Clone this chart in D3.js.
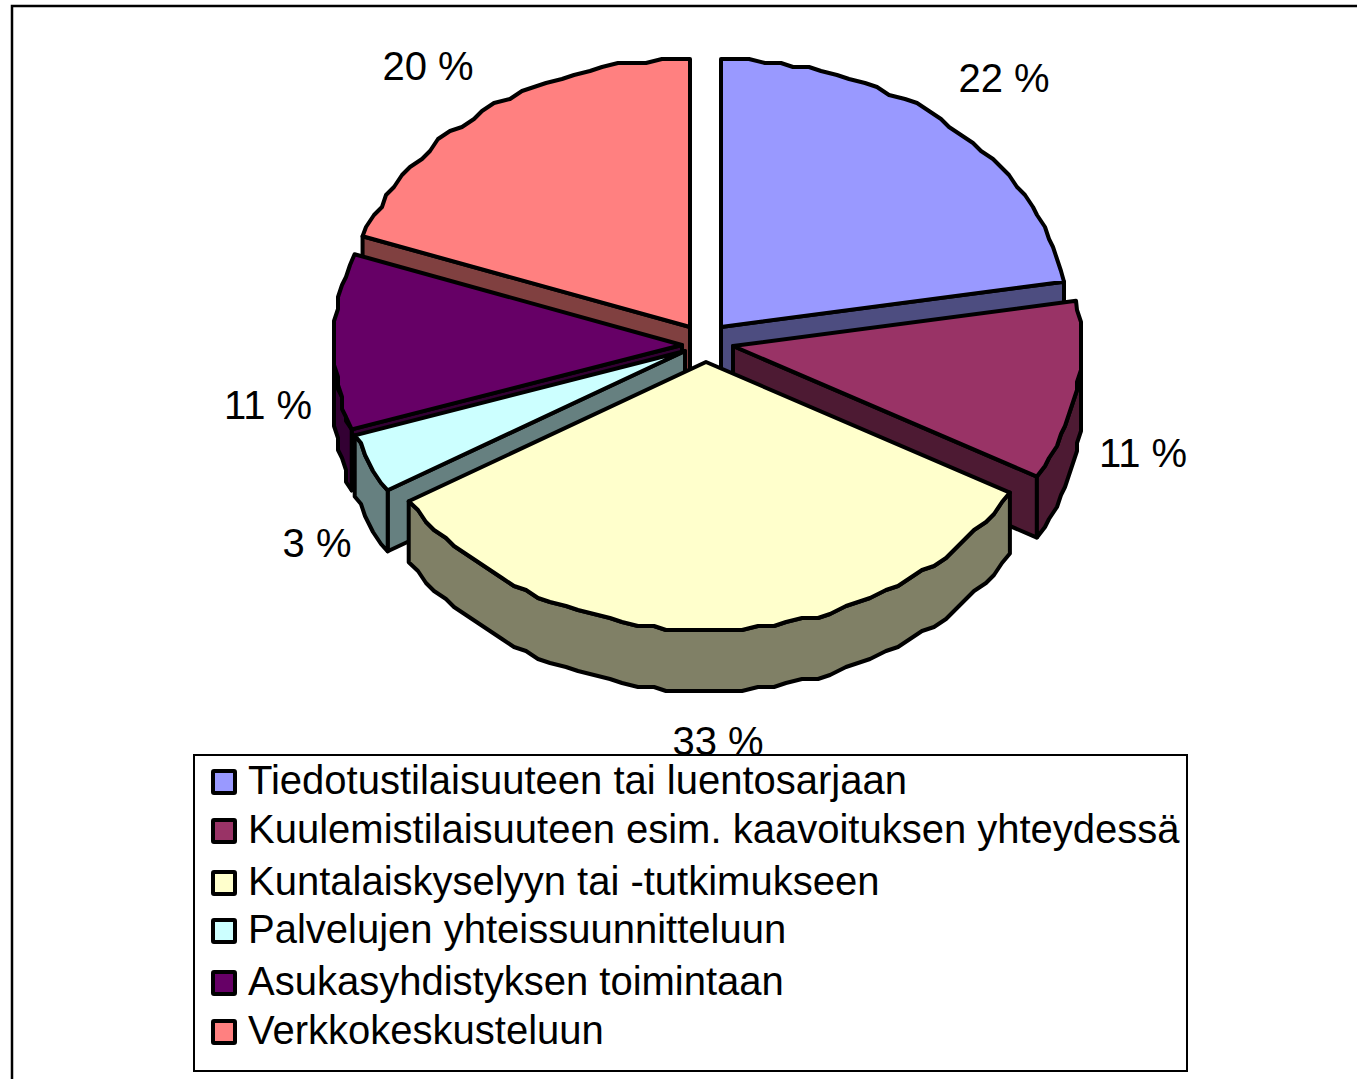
<!DOCTYPE html>
<html><head><meta charset="utf-8">
<script src="https://cdnjs.cloudflare.com/ajax/libs/d3/7.8.5/d3.min.js"></script>
<style>html,body{margin:0;padding:0;background:#fff}svg{display:block}text{font-family:"Liberation Sans",Arial,sans-serif;fill:#000}</style>
</head><body><svg id="c" width="1357" height="1079"></svg>
<script>
const categories = ["Tiedotustilaisuuteen tai luentosarjaan","Kuulemistilaisuuteen esim. kaavoituksen yhteydessä","Kuntalaiskyselyyn tai -tutkimukseen","Palvelujen yhteissuunnitteluun","Asukasyhdistyksen toimintaan","Verkkokeskusteluun"];
const values = [22.3, 10.8, 33.2, 3.6, 10.6, 19.5];
const valueLabels = ["22 %", "11 %", "33 %", "3 %", "11 %", "20 %"];
const topColors = ["#9999ff","#993366","#ffffcc","#ccffff","#660066","#ff8080"];
const sideColors = ["#4d4d80","#4d1a33","#808066","#668080","#330033","#804040"];

// layout
const apexX = [721, 733, 706, 685, 682, 690];
const apexY = [327, 346, 362, 351, 345, 327];
const labelX = [1004, 1143, 718, 317, 268, 428];
const labelY = [92, 467, 755, 557, 419, 80];
const legendBaseline = [794, 843, 895, 943, 995, 1044];
const drawOrder = [5, 0, 4, 1, 3, 2];
const rx = 348, ry = 268, depth = 61, grid = 4;

const svg = d3.select("#c");
const sx = d3.scaleLinear().domain([-1, 1]).range([-rx, rx]);
const sy = d3.scaleLinear().domain([-1, 1]).range([-ry, ry]);
const line = d3.line();
const q = v => Math.round(v / grid) * grid;
const arcs = d3.pie().sort(null).value(d => d)(values);

function rimPoints(i, a, b, dy) {
  const pts = [];
  const step = Math.PI / 72;
  const n = Math.max(1, Math.ceil((b - a) / step));
  for (let k = 0; k <= n; k++) {
    const t = a + (b - a) * k / n;
    const x = sx(Math.sin(t)), y = sy(-Math.cos(t));
    const edge = k === 0 || k === n;
    pts.push([apexX[i] + (edge ? x : q(x)), apexY[i] + (edge ? y : q(y)) + dy]);
  }
  return pts;
}
function face(pts, fill) {
  svg.append("path").attr("d", line(pts) + "Z").attr("fill", fill)
    .attr("stroke", "#000").attr("stroke-width", 4).attr("stroke-linejoin", "round");
}

// outer frame
svg.append("path").attr("d", "M12,1079V6H1357").attr("fill", "none").attr("stroke", "#000").attr("stroke-width", 2.5);

drawOrder.forEach(i => {
  const a = arcs[i].startAngle, b = arcs[i].endAngle;
  const ax = apexX[i], ay = apexY[i], side = sideColors[i];
  const pa = rimPoints(i, a, b, 0);
  const first = pa[0], last = pa[pa.length - 1];
  // cut walls: only those facing the viewer
  if (a > Math.PI && a < 2 * Math.PI) face([[ax, ay], first, [first[0], first[1] + depth], [ax, ay + depth]], side);
  if (b > 0 && b < Math.PI) face([[ax, ay], last, [last[0], last[1] + depth], [ax, ay + depth]], side);
  // curved rim (front half only)
  const ra = Math.max(a, Math.PI / 2), rb = Math.min(b, 3 * Math.PI / 2);
  if (rb > ra) {
    const up = rimPoints(i, ra, rb, 0), down = rimPoints(i, ra, rb, depth).reverse();
    face(up.concat(down), side);
  }
  // top
  face([[ax, ay]].concat(pa), topColors[i]);
});

// data labels
valueLabels.forEach((v, i) => {
  svg.append("text").attr("x", labelX[i]).attr("y", labelY[i]).attr("text-anchor", "middle")
    .attr("font-size", 40).text(v);
});

// legend
svg.append("rect").attr("x", 194).attr("y", 755).attr("width", 993).attr("height", 316)
  .attr("fill", "#fff").attr("stroke", "#000").attr("stroke-width", 2);
categories.forEach((c, i) => {
  svg.append("rect").attr("x", 213).attr("y", legendBaseline[i] - 23).attr("width", 22).attr("height", 22)
    .attr("fill", topColors[i]).attr("stroke", "#000").attr("stroke-width", 4).attr("rx", 1);
  svg.append("text").attr("x", 248).attr("y", legendBaseline[i]).attr("font-size", 40).text(c);
});
</script></body></html>
